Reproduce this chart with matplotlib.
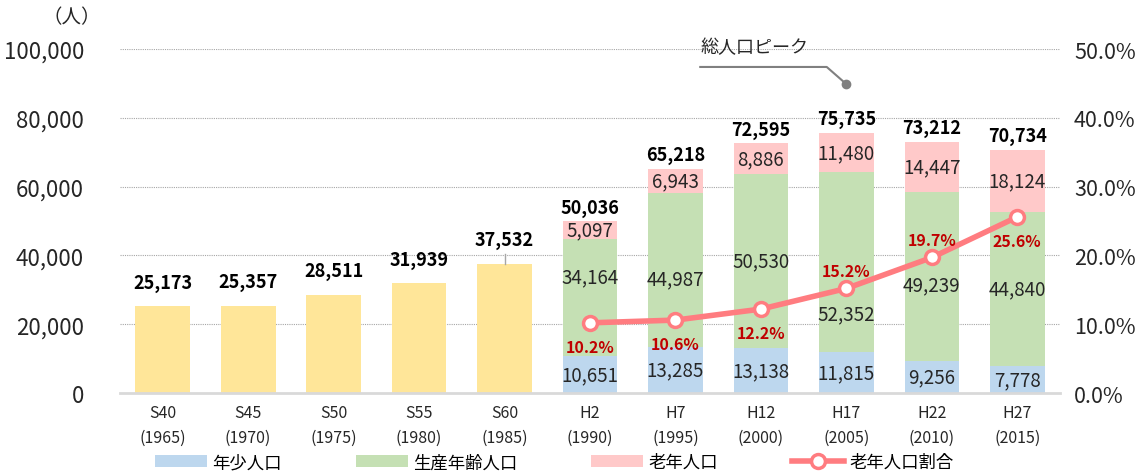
import matplotlib
matplotlib.use("Agg")
import matplotlib.pyplot as plt
import numpy as np

plt.rcParams['font.family'] = ['Noto Sans CJK JP', 'DejaVu Sans']

# データ
years = ["S40\n(1965)", "S45\n(1970)", "S50\n(1975)", "S55\n(1980)", "S60\n(1985)",
         "H2\n(1990)", "H7\n(1995)", "H12\n(2000)", "H17\n(2005)", "H22\n(2010)", "H27\n(2015)"]
total = [25173, 25357, 28511, 31939, 37532, 50036, 65218, 72595, 75735, 73212, 70734]
young = [10651, 13285, 13138, 11815, 9256, 7778]          # H2〜H27
working = [34164, 44987, 50530, 52352, 49239, 44840]
elderly = [5097, 6943, 8886, 11480, 14447, 18124]
elderly_ratio = [10.2, 10.6, 12.2, 15.2, 19.7, 25.6]
ratio_label_above = [False, False, False, True, True, False]
green_label_shift = [6000, -2500, 0, -15000, -2500, 0]

C_YELLOW = "#FFE699"
C_BLUE = "#BDD7EE"
C_GREEN = "#C5E0B4"
C_PINK = "#FFC9C9"
C_LINE = "#FF7C80"

fig = plt.figure(figsize=(11.45, 4.77), dpi=100)
ax = fig.add_axes([0.1048, 0.174, 0.821, 0.721])
ax2 = ax.twinx()

x = np.arange(len(years))
n_old = len(total) - len(young)
xs = x[n_old:]
w = 0.64

# 昭和（合計のみ）
ax.bar(x[:n_old], total[:n_old], width=w, color=C_YELLOW, zorder=2)
# 平成（内訳）
young_a = np.array(young)
work_a = np.array(working)
eld_a = np.array(elderly)
ax.bar(xs, young_a, width=w, color=C_BLUE, zorder=2, label="年少人口")
ax.bar(xs, work_a, width=w, bottom=young_a, color=C_GREEN, zorder=2, label="生産年齢人口")
ax.bar(xs, eld_a, width=w, bottom=young_a + work_a, color=C_PINK, zorder=2, label="老年人口")

# 合計ラベル
for i, t in enumerate(total):
    off = 7000 if i < n_old else 4000
    ax.text(i, t + off, f"{t:,}", ha="center", va="center", fontsize=13,
            fontweight="bold", color="black", zorder=5)
ax.plot([4, 4], [total[4] + 3000, total[4]], color="#a6a6a6", lw=1, zorder=3)

# 内訳ラベル
for j, xi in enumerate(xs):
    ax.text(xi, young[j] / 2, f"{young[j]:,}", ha="center", va="center", fontsize=13.5, color="#262626", zorder=5)
    ax.text(xi, young[j] + working[j] / 2 + green_label_shift[j], f"{working[j]:,}", ha="center",
            va="center", fontsize=13.5, color="#262626", zorder=5)
    ax.text(xi, young[j] + working[j] + elderly[j] / 2, f"{elderly[j]:,}", ha="center",
            va="center", fontsize=13.5, color="#262626", zorder=5)

ax.set_xlim(-0.5, len(years) - 0.5)
ax.set_ylim(0, 100000)
ax.set_yticks(np.arange(0, 100001, 20000))
ax.set_yticklabels([f"{v:,}" for v in range(0, 100001, 20000)], fontsize=16, color="#262626")
ax.set_xticks(x)
ax.set_xticklabels(years, fontsize=11.5, color="#262626", linespacing=1.6)
ax.tick_params(axis="both", length=0)
ax.tick_params(axis="y", pad=26)
ax.tick_params(axis="x", pad=8)
for s in ["top", "right", "left"]:
    ax.spines[s].set_visible(False)
ax.spines["bottom"].set_color("#d9d9d9")
ax.spines["bottom"].set_linewidth(2)
for v in range(20000, 100001, 20000):
    ax.axhline(v, color="#a6a6a6", lw=0.8, ls=(0, (1, 1)), zorder=1)

# 老年人口割合
ax2.plot(xs, elderly_ratio, color=C_LINE, lw=4, marker="o", markersize=10,
         markerfacecolor="white", markeredgecolor=C_LINE, markeredgewidth=2.5, zorder=6,
         label="老年人口割合")
for j, xi in enumerate(xs):
    dy = 2.6 if ratio_label_above[j] else -3.5
    ax2.text(xi, elderly_ratio[j] + dy, f"{elderly_ratio[j]}%", ha="center", va="center",
             fontsize=11.5, fontweight="bold", color="#C00000", zorder=7)
ax2.set_ylim(0, 50)
ax2.set_yticks(np.arange(0, 51, 10))
ax2.set_yticklabels([f"{v:.1f}%" for v in range(0, 51, 10)], fontsize=15.5, color="#262626")
ax2.tick_params(axis="y", length=0, pad=10)
for s in ["top", "right", "left", "bottom"]:
    ax2.spines[s].set_visible(False)

# 総人口ピーク
ax.plot([6.29, 7.77, 8.0], [94800, 94800, 89800], color="#808080", lw=1.5, zorder=4)
ax.plot(8.0, 89800, "o", color="#808080", markersize=6, zorder=4)
ax.text(6.93, 100600, "総人口ピーク", ha="center", va="center", fontsize=13, color="#262626")

fig.text(0.063, 0.962, "（人）", ha="center", va="center", fontsize=14, color="#262626")

# 凡例
h1, l1 = ax.get_legend_handles_labels()
h2, l2 = ax2.get_legend_handles_labels()
fig.legend(h1 + h2, l1 + l2, loc="center", bbox_to_anchor=(0.484, 0.029), ncol=4,
           frameon=False, fontsize=12.5, handlelength=3, handleheight=0.7, columnspacing=4.25,
           handletextpad=0.3)

fig.savefig("out.png", dpi=100)
